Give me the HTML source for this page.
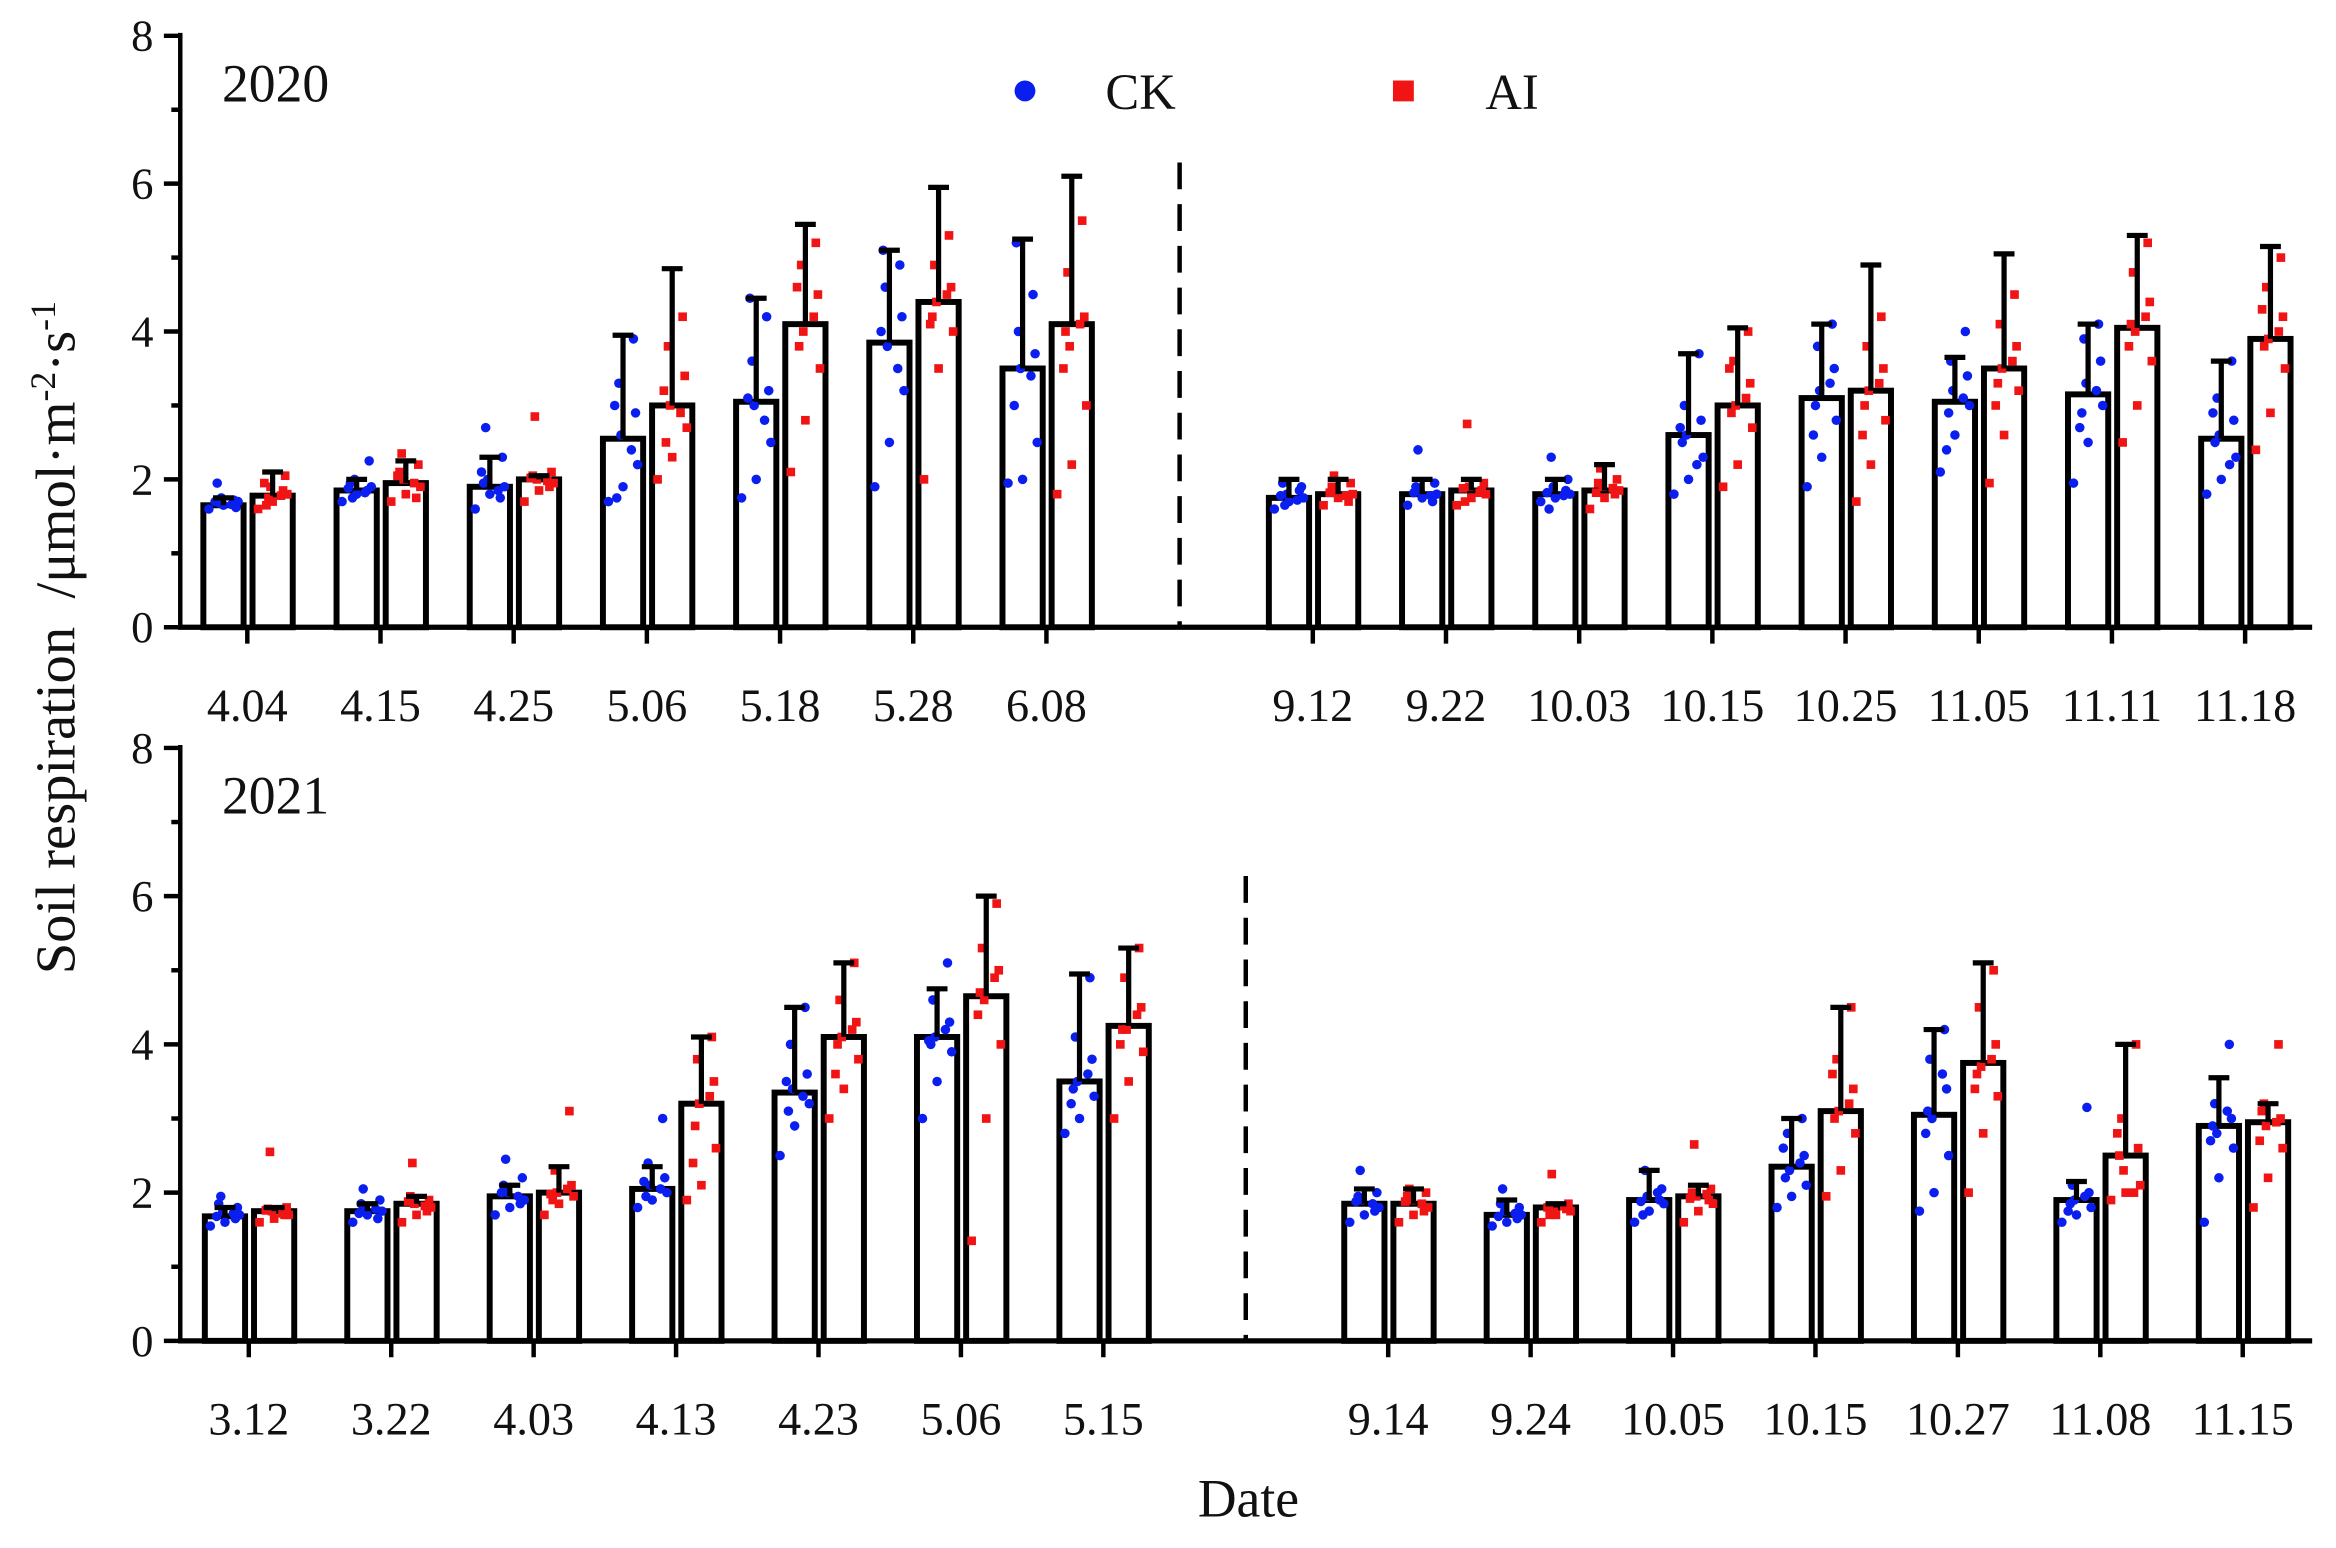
<!DOCTYPE html>
<html><head><meta charset="utf-8"><style>
html,body{margin:0;padding:0;background:#fff;}
svg{display:block;}
text{font-family:"Liberation Serif",serif;fill:#111;}
</style></head><body>
<svg id="chart" width="2336" height="1548" viewBox="0 0 1568 1039" xmlns="http://www.w3.org/2000/svg">
<g id="root"></g>
</svg>
<script>
// ---------- DATA ----------
const cats2020 = ["4.04","4.15","4.25","5.06","5.18","5.28","6.08","","9.12","9.22","10.03","10.15","10.25","11.05","11.11","11.18"];
const ck2020 = [1.65,1.85,1.9,2.55,3.05,3.85,3.5,null,1.75,1.8,1.8,2.6,3.1,3.05,3.15,2.55];
const ckErr2020 = [1.75,2.0,2.3,3.95,4.45,5.1,5.25,null,2.0,2.0,2.0,3.7,4.1,3.65,4.1,3.6];
const ai2020 = [1.78,1.95,2.0,3.0,4.1,4.4,4.1,null,1.8,1.85,1.85,3.0,3.2,3.5,4.05,3.9];
const aiErr2020 = [2.1,2.25,2.05,4.85,5.45,5.95,6.1,null,2.0,2.0,2.2,4.05,4.9,5.05,5.3,5.15];
const ckPts2020 = [
 [1.6,1.65,1.7,1.75,1.62,1.68,1.72,1.95,1.66,1.7],[1.7,1.8,1.9,2.0,2.25,1.75,1.85,1.95,1.82,1.88],[1.6,1.8,1.9,2.0,2.3,2.7,1.75,1.95,1.85,2.1],
 [1.7,1.9,2.2,2.6,2.9,3.3,3.9,1.75,2.4,3.0],[1.75,2.0,2.5,3.0,3.2,3.6,4.2,4.45,2.8,3.1],[1.9,2.5,3.2,3.8,4.2,4.6,4.9,5.1,3.5,4.0],
 [1.95,2.0,2.5,3.5,3.7,4.0,4.5,5.2,3.4,3.0],[],
 [1.6,1.7,1.75,1.8,1.9,1.65,1.85,1.95,1.72,1.78],[1.65,1.75,1.8,1.85,1.95,2.4,1.7,1.9,1.78,1.82],[1.7,1.75,1.8,1.9,2.0,2.3,1.85,1.6,1.78,1.82],
 [1.8,2.0,2.3,2.6,2.8,3.0,3.7,2.5,2.2,2.7],[1.9,2.3,2.8,3.2,3.5,3.8,4.1,3.0,3.3,2.6],[2.1,2.6,3.0,3.2,3.4,3.6,4.0,2.9,3.1,2.4],
 [1.95,2.5,3.0,3.3,3.6,3.9,4.1,2.9,3.2,2.7],[1.8,2.0,2.3,2.6,2.8,3.1,3.6,2.5,2.2,2.9]];
const aiPts2020 = [
 [1.6,1.7,1.8,1.9,2.05,1.75,1.85,1.65,1.78,1.95],[1.7,1.8,1.9,2.0,2.2,2.35,1.75,2.1,1.95,2.05],[1.7,1.85,1.95,2.0,2.1,2.85,1.9,2.05,1.98,2.02],
 [2.0,2.3,2.7,3.0,3.4,3.8,4.2,2.5,2.9,3.2],[2.1,2.8,3.5,4.0,4.5,4.9,5.2,3.8,4.2,4.6],[2.0,3.5,4.0,4.4,4.6,4.9,5.3,4.2,4.5,4.1],
 [1.8,2.2,3.0,3.8,4.2,4.8,5.5,4.0,4.1,3.5],[],
 [1.65,1.75,1.8,1.85,1.95,2.05,1.7,1.9,1.78,1.82],[1.65,1.75,1.8,1.9,1.95,2.75,1.85,1.7,1.82,1.88],[1.6,1.75,1.85,1.9,2.0,2.15,1.8,1.95,1.88,1.82],
 [1.9,2.2,2.7,3.0,3.3,3.6,4.0,2.9,3.1,3.5],[1.7,2.2,2.8,3.2,3.5,3.8,4.2,3.0,3.3,2.6],[1.95,2.6,3.2,3.5,3.8,4.1,4.5,3.3,3.6,3.0],
 [2.5,3.0,3.6,4.0,4.4,4.8,5.2,4.1,4.2,3.8],[2.4,2.9,3.5,3.9,4.2,4.6,5.0,3.8,4.0,4.3]];

const cats2021 = ["3.12","3.22","4.03","4.13","4.23","5.06","5.15","","9.14","9.24","10.05","10.15","10.27","11.08","11.15"];
const ck2021 = [1.68,1.75,1.95,2.05,3.35,4.1,3.5,null,1.85,1.7,1.9,2.35,3.05,1.9,2.9];
const ckErr2021 = [1.8,1.85,2.1,2.35,4.5,4.75,4.95,null,2.05,1.9,2.3,3.0,4.2,2.15,3.55];
const ai2021 = [1.75,1.85,2.0,3.2,4.1,4.65,4.25,null,1.85,1.8,1.95,3.1,3.75,2.5,2.95];
const aiErr2021 = [1.8,1.95,2.35,4.1,5.1,6.0,5.3,null,2.05,1.85,2.1,4.5,5.1,4.0,3.2];
const ckPts2021 = [
 [1.55,1.6,1.7,1.75,1.8,1.95,1.65,1.85,1.72,1.68],[1.6,1.7,1.75,1.8,1.9,2.05,1.65,1.85,1.78,1.72],[1.7,1.8,1.9,2.0,2.2,2.45,1.85,2.1,1.95,2.0],
 [1.8,1.9,2.0,2.1,2.2,2.4,3.0,1.95,2.05,2.15],[2.5,2.9,3.2,3.4,3.6,4.0,4.5,3.1,3.3,3.5],[3.0,3.5,3.9,4.1,4.3,4.6,5.1,4.0,4.2,4.05],
 [2.8,3.0,3.3,3.5,3.8,4.1,4.9,3.4,3.6,3.2],[],
 [1.6,1.7,1.8,1.9,2.0,2.3,1.75,1.95,1.85,1.88],[1.55,1.6,1.7,1.75,1.8,2.05,1.65,1.85,1.72,1.68],[1.6,1.75,1.85,1.95,2.05,2.3,1.9,1.7,2.0,1.88],
 [1.8,1.95,2.1,2.3,2.5,2.8,3.0,2.2,2.4,2.6],[1.75,2.0,2.5,3.0,3.4,3.8,4.2,3.1,3.6,2.8],[1.6,1.7,1.8,1.9,2.0,2.1,3.15,1.85,1.95,1.75],
 [1.6,2.2,2.6,2.8,3.0,3.2,4.0,2.9,3.1,2.7]];
const aiPts2021 = [
 [1.6,1.65,1.7,1.75,1.8,2.55,1.7,1.78,1.72,1.76],[1.6,1.7,1.8,1.85,1.9,2.4,1.75,1.95,1.82,1.88],[1.7,1.85,1.95,2.0,2.1,2.3,3.1,1.9,2.05,1.98],
 [1.9,2.1,2.6,3.2,3.5,3.8,4.1,2.9,3.3,2.4],[3.0,3.4,3.8,4.1,4.3,4.6,5.1,4.0,4.2,3.6],[1.35,3.0,4.0,4.6,5.0,5.3,5.9,4.7,4.9,4.4],
 [3.0,3.5,3.9,4.2,4.5,4.9,5.3,4.2,4.4,4.0],[],
 [1.6,1.7,1.8,1.9,2.0,2.05,1.75,1.95,1.85,1.88],[1.6,1.7,1.75,1.8,1.85,2.25,1.78,1.7,1.82,1.8],[1.6,1.75,1.85,1.95,2.05,2.65,1.9,2.0,1.98,1.92],
 [1.95,2.3,2.8,3.1,3.4,3.8,4.5,3.0,3.2,3.6],[2.0,2.8,3.3,3.7,4.0,4.5,5.0,3.6,3.8,3.4],[1.9,2.0,2.1,2.3,2.6,3.0,4.0,2.5,2.0,2.8],
 [1.8,2.2,2.6,2.9,3.0,3.2,4.0,3.1,2.95,2.7]];
const yTicks = [0,2,4,6,8];

// ---------- DRAW ----------
const NS="http://www.w3.org/2000/svg";
const root=document.getElementById('root');
function el(tag,attrs,parent){const e=document.createElementNS(NS,tag);for(const k in attrs)e.setAttribute(k,attrs[k]);(parent||root).appendChild(e);return e;}

function panel(cfg){
  const g=el('g',{});
  
  
  const yS=v=>cfg.y0-(cfg.y0-cfg.y8)*v/8;
  const xS=i=>cfg.x0+cfg.step*i;
  const ya=el('line',{x1:cfg.axX,y1:cfg.y8-2,x2:cfg.axX,y2:cfg.y0+1.5,stroke:'#000','stroke-width':3},g);
  
  
  for(let v=0;v<=8;v++){
    const major=v%2===0;
    el('line',{x1:cfg.axX-(major?11:6),y1:yS(v),x2:cfg.axX,y2:yS(v),stroke:'#000','stroke-width':3},g);
  }
  yTicks.forEach(v=>{
    const t=el('text',{x:cfg.axX-18,y:yS(v)+10,'text-anchor':'end','font-size':30},g);
    t.textContent=v;
    
    
  });
  const xa=el('line',{x1:cfg.axX-1.5,y1:cfg.y0,x2:1552,y2:cfg.y0,stroke:'#000','stroke-width':3.5},g);
  
  
  cfg.cats.forEach((c,i)=>{
    const x=xS(i);
    if(c===""){
      const d=el('line',{x1:x,y1:cfg.y0-312,x2:x,y2:cfg.y0,stroke:'#000','stroke-width':3,'stroke-dasharray':'18,10'},g);
      
      
      return;
    }
    el('line',{x1:x,y1:cfg.y0,x2:x,y2:cfg.y0+11,stroke:'#000','stroke-width':3},g);
    const t=el('text',{x:x,y:cfg.y0+63,'text-anchor':'middle','font-size':31},g);
    t.textContent=c;
    
    
    [[cfg.ck,cfg.ckErr,cfg.ckPts,-16,'#0a1ef0','ck'],[cfg.ai,cfg.aiErr,cfg.aiPts,17,'#f01414','ai']].forEach(([m,e,p,off,col,nm])=>{
      const cx=x+off, w=27;
      const b=el('rect',{x:cx-w/2,y:yS(m[i]),width:w,height:yS(0)-yS(m[i]),fill:'#fff',stroke:'#000','stroke-width':4},g);
      
      
      p[i].forEach((v,j)=>{
        const jx=cx+((j*7)%15-7)*1.4;
        let mk;
        if(nm==='ck') mk=el('circle',{cx:jx,cy:yS(v),r:3.2,fill:col},g);
        else mk=el('rect',{x:jx-2.9,y:yS(v)-2.9,width:5.8,height:5.8,fill:col},g);
        
        
      });
      const eb=el('path',{d:`M${cx},${yS(m[i])}V${yS(e[i])}M${cx-7},${yS(e[i])}H${cx+7}`,stroke:'#000','stroke-width':3.5,fill:'none'},g);
      
      
    });
  });
  const yr=el('text',{x:cfg.axX+28,y:cfg.y8+44,'font-size':36},g);
  yr.textContent=cfg.year;
  
  
}
panel({name:'panel-2020',year:'2020',cats:cats2020,ck:ck2020,ckErr:ckErr2020,ai:ai2020,aiErr:aiErr2020,ckPts:ckPts2020,aiPts:aiPts2020,axX:121,x0:166,step:89.4,y0:421,y8:24});
panel({name:'panel-2021',year:'2021',cats:cats2021,ck:ck2021,ckErr:ckErr2021,ai:ai2021,aiErr:aiErr2021,ckPts:ckPts2021,aiPts:aiPts2021,axX:121,x0:167,step:95.6,y0:900,y8:502});
</script>
<svg style="position:absolute;left:0;top:0" width="2336" height="1548" viewBox="0 0 1568 1039" xmlns="http://www.w3.org/2000/svg">
<g>
<circle cx="688" cy="61" r="7" fill="#0a1ef0"/>
<text x="742" y="73" font-size="34" style="font-family:'Liberation Serif',serif">CK</text>
<rect x="935" y="54" width="14" height="14" fill="#f01414"/>
<text x="997" y="73" font-size="34" style="font-family:'Liberation Serif',serif">AI</text>
</g>
<text transform="translate(50,428) rotate(-90)" text-anchor="middle" font-size="38" style="font-family:'Liberation Serif',serif">Soil respiration&#160;&#160;/μmol·m<tspan dy="-13" font-size="24">-2</tspan><tspan dy="13">·s</tspan><tspan dy="-13" font-size="24">-1</tspan></text>
<text x="838" y="1018" text-anchor="middle" font-size="36" style="font-family:'Liberation Serif',serif">Date</text>
</svg>
<style>body{position:relative;width:2336px;height:1548px;overflow:hidden}#chart{position:absolute;left:0;top:0}</style>
</body></html>
